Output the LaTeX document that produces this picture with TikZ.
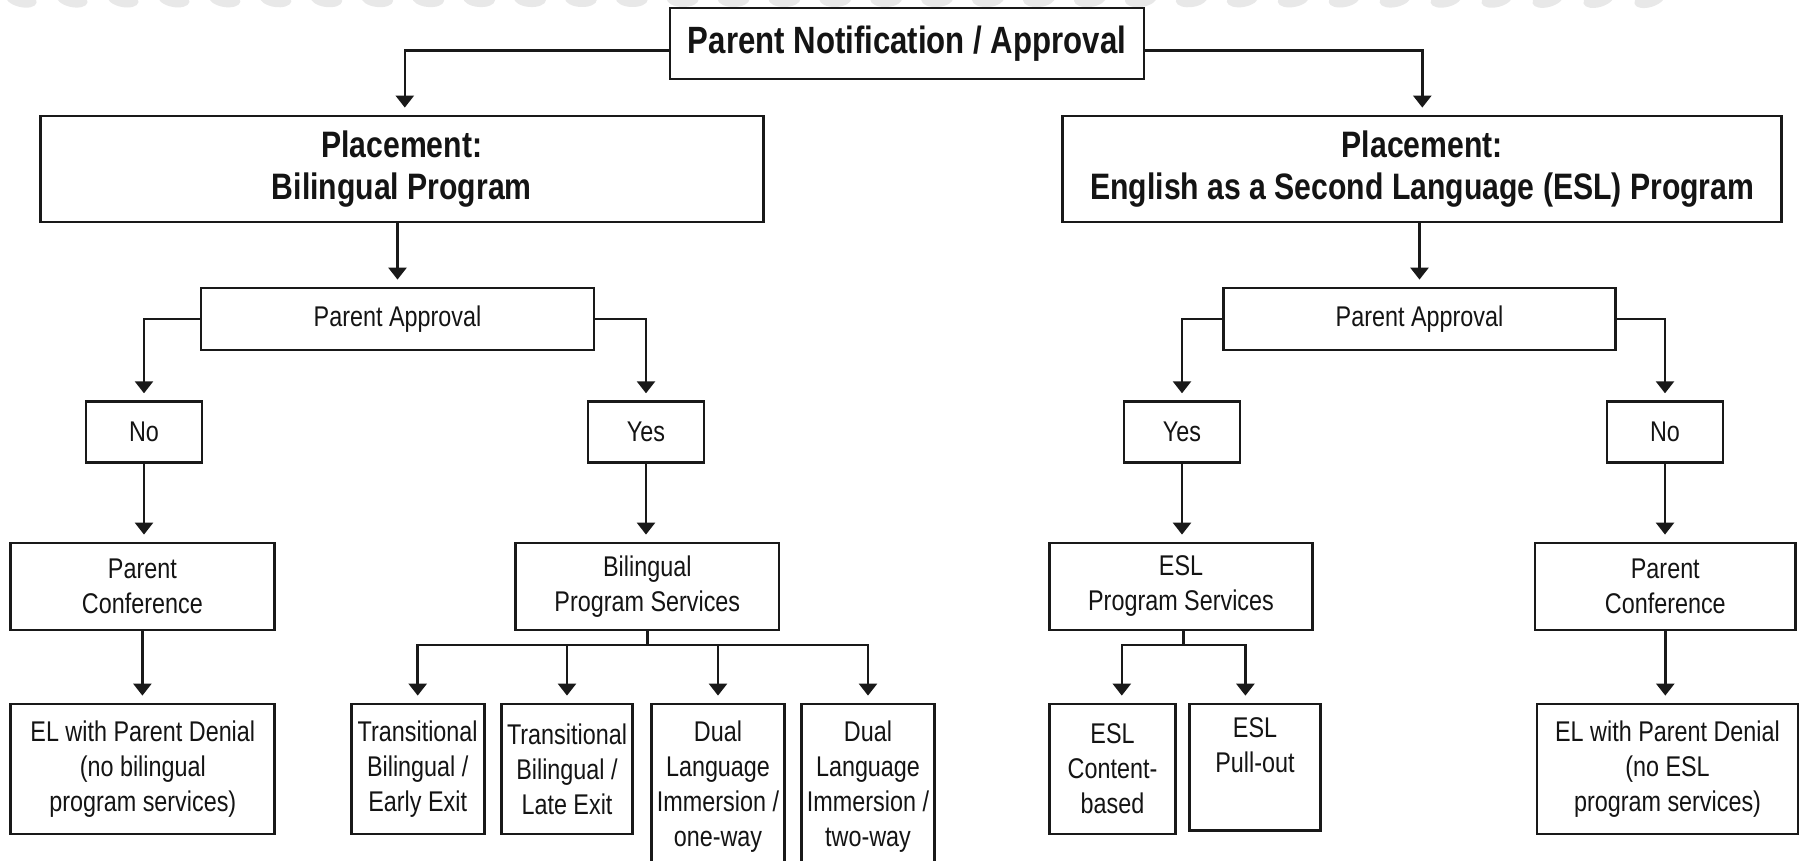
\documentclass[tikz,border=0pt]{standalone}
\usepackage{fontspec}
\setmainfont{Liberation Sans}[FakeStretch=0.82]
\usetikzlibrary{arrows.meta}
\newcommand\regf{\fontsize{28.5}{35}\selectfont}
\newcommand\boldf{\fontsize{36.8}{41.7}\bfseries\selectfont}
\newcommand\topf{\fontsize{38}{42}\bfseries\selectfont}
\tikzset{
  box/.style={draw=black!90, line width=2.8pt, inner sep=0pt, align=center, font=\regf, text=black!92},
  bbox/.style={box, font=\boldf},
  conn/.style={draw=black!90, line width=2.6pt},
  arr/.style={conn, -{Triangle[width=18pt,length=12pt]}, shorten >=7pt},
  blob/.style={fill=black!9}
}
\begin{document}
\begin{tikzpicture}[x=1pt,y=-1pt]
\useasboundingbox (0,0) rectangle (1801,861);
\fill[white] (0,0) rectangle (1801,861);
% faint decorative band at the top
\foreach \i in {0,...,32}{
  \fill[blob, shift={({21+50.9*\i},-1)}, rotate={-14+1.0*\i}] (0,0) ellipse [x radius=16pt, y radius=8pt];
}
% level 0
\node[box, font=\topf, minimum width=474pt, minimum height=71pt] (top) at (907,43.5) {Parent Notification / Approval};
% level 1
\node[bbox, minimum width=723pt, minimum height=106pt] (pb) at (401.8,169) {Placement:\\Bilingual Program};
\node[bbox, minimum width=719pt, minimum height=106pt] (pe) at (1422.3,169) {Placement:\\English as a Second Language (ESL) Program};
% level 2
\node[box, minimum width=393pt, minimum height=62pt] (paL) at (397.5,319) {Parent Approval};
\node[box, minimum width=392pt, minimum height=62pt] (paR) at (1419.5,319) {Parent Approval};
% level 3
\node[box, minimum width=116pt, minimum height=61pt] (noL) at (144,432.2) {No};
\node[box, minimum width=116pt, minimum height=61pt] (yesL) at (646,432.2) {Yes};
\node[box, minimum width=116pt, minimum height=61pt] (yesR) at (1182,432.2) {Yes};
\node[box, minimum width=116pt, minimum height=61pt] (noR) at (1665,432.2) {No};
% level 4
\node[box, minimum width=264pt, minimum height=87pt] (pcL) at (142.4,586.5) {Parent\\Conference};
\node[box, minimum width=263.5pt, minimum height=87pt] (bps) at (647.3,586.5) {Bilingual\\Program Services};
\node[box, minimum width=263pt, minimum height=87pt] (eps) at (1181,586.5) {ESL\\Program Services};
\node[box, minimum width=260.5pt, minimum height=87pt] (pcR) at (1665.3,586.5) {Parent\\Conference};
% level 5
\node[box, minimum width=264pt, minimum height=130pt] (elL) at (142.8,769) {EL with Parent Denial\\(no bilingual\\program services)};
\node[box, minimum width=133pt, minimum height=130pt] (tbe) at (417.7,769) {Transitional\\Bilingual /\\Early Exit};
\node[box, minimum width=131.5pt, minimum height=130pt] (tbl) at (567,769) {Transitional\\Bilingual /\\Late Exit};
\node[box, minimum width=132.6pt, minimum height=166pt] (d1) at (718,787) {Dual\\Language\\Immersion /\\one-way};
\node[box, minimum width=132.6pt, minimum height=166pt] (d2) at (868,787) {Dual\\Language\\Immersion /\\two-way};
\node[box, minimum width=126pt, minimum height=130pt] (ec) at (1112.5,769) {ESL\\Content-\\based};
\node[box, minimum width=131.5pt, minimum height=126.7pt] (ep) at (1255,767.4) {ESL\\Pull-out\\\strut};
\node[box, minimum width=261pt, minimum height=130pt] (elR) at (1667.5,769) {EL with Parent Denial\\(no ESL\\program services)};
% connectors
\draw[arr] ([yshift=-7pt]top.west) -| ([xshift=3pt]pb.north);
\draw[arr] ([yshift=-7pt]top.east) -| (pe.north);
\draw[arr] (paL.north |- pb.south) -- (paL.north);
\draw[arr] (paR.north |- pe.south) -- (paR.north);
\draw[arr] (paL.west) -| (noL.north);
\draw[arr] (paL.east) -| (yesL.north);
\draw[arr] (paR.west) -| (yesR.north);
\draw[arr] (paR.east) -| (noR.north);
\draw[arr] (noL.south) -- (noL.south |- pcL.north);
\draw[arr] (yesL.south) -- (yesL.south |- bps.north);
\draw[arr] (yesR.south) -- (yesR.south |- eps.north);
\draw[arr] (noR.south) -- (noR.south |- pcR.north);
\draw[arr] (pcL.south) -- (pcL.south |- elL.north);
\draw[arr] (pcR.south) -- (pcR.south |- elR.north);
% bilingual services split
\coordinate (bsplit) at (647.5,645);
\draw[conn] (bps.south -| bsplit) -- (bsplit);
\foreach \n in {tbe,tbl,d1,d2}{
  \draw[arr] (bsplit) -| (\n.north);
}
% ESL services split
\coordinate (esplit) at (1183.3,645);
\draw[conn] (eps.south -| esplit) -- (esplit);
\draw[arr] (esplit) -| ([xshift=9.3pt]ec.north);
\draw[arr] (esplit) -| ([xshift=-9.6pt]ep.north);
\end{tikzpicture}
\end{document}
